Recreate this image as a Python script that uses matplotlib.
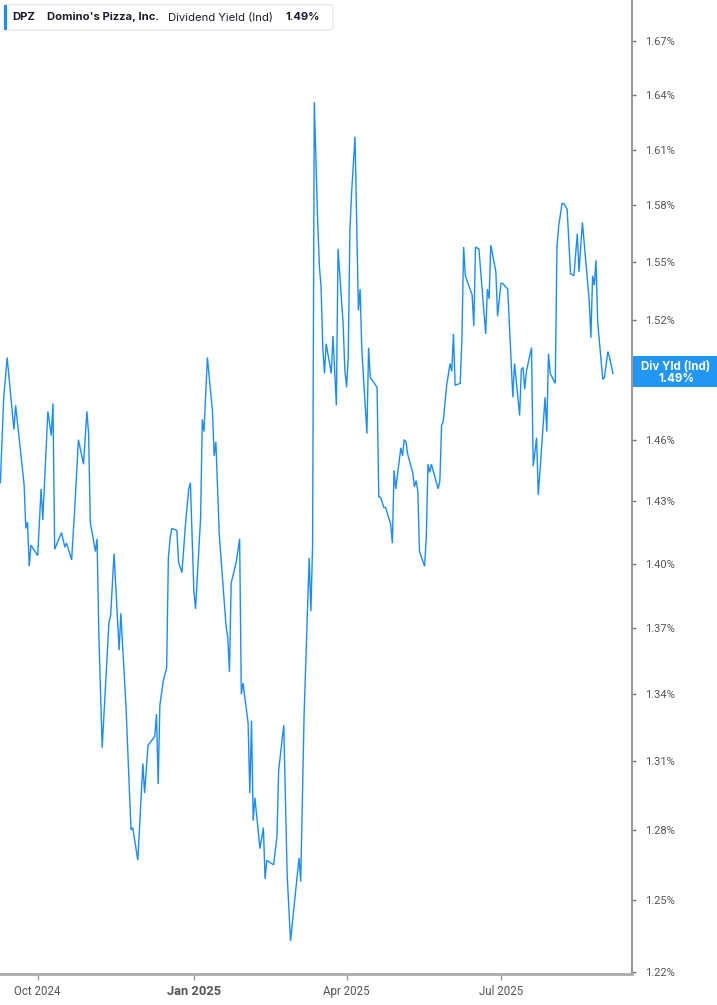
import matplotlib
matplotlib.use("Agg")
import matplotlib.pyplot as plt
import matplotlib.dates as mdates
from matplotlib.patches import Rectangle, FancyBboxPatch
import pandas as pd

# ---- data ----
start_date = "2024-09-09"
day_offsets = [0, 2, 4, 8, 9, 14, 15, 16, 17, 18, 22, 24, 25, 28, 30, 31, 32, 36, 38, 39,
               42, 44, 46, 49, 51, 52, 53, 56, 57, 58, 60, 64, 65, 67, 70, 71, 74, 77, 78, 81,
               84, 85, 87, 91, 92, 93, 94, 96, 98, 99, 100, 101, 104, 105, 107, 109, 111, 112, 114, 115,
               117, 118, 119, 120, 122, 125, 126, 127, 129, 133, 134, 135, 136, 139, 141, 142, 143, 146, 147, 148,
               149, 150, 153, 155, 156, 157, 161, 163, 164, 167, 169, 171, 174, 176, 177, 179, 182, 183, 184, 185,
               187, 188, 189, 190, 191, 192, 195, 196, 198, 199, 202, 203, 204, 205, 206, 207, 209, 211, 212, 213,
               216, 217, 218, 222, 223, 224, 226, 227, 230, 231, 232, 233, 236, 237, 238, 239, 240, 243, 244, 245,
               246, 247, 250, 251, 252, 253, 254, 258, 259, 260, 261, 263, 265, 266, 267, 268, 271, 272, 273, 274,
               278, 279, 280, 282, 284, 286, 287, 288, 289, 292, 293, 295, 296, 299, 302, 303, 306, 307, 308, 309,
               310, 313, 314, 316, 317, 321, 322, 323, 324, 327, 328, 329, 331, 332, 334, 336, 338, 340, 341, 343,
               347, 348, 349, 350, 351, 352, 355, 356, 358, 359, 361]
yield_pct = [1.439, 1.481, 1.501, 1.465, 1.477, 1.438, 1.417, 1.420, 1.399, 1.409, 1.404, 1.436, 1.421, 1.474, 1.462, 1.478, 1.407, 1.415, 1.408, 1.410,
             1.402, 1.429, 1.460, 1.448, 1.474, 1.463, 1.420, 1.406, 1.412, 1.368, 1.316, 1.373, 1.376, 1.405, 1.360, 1.377, 1.335, 1.280, 1.281, 1.267,
             1.309, 1.296, 1.317, 1.321, 1.331, 1.300, 1.335, 1.346, 1.352, 1.403, 1.412, 1.417, 1.416, 1.401, 1.396, 1.418, 1.436, 1.439, 1.388, 1.379,
             1.407, 1.422, 1.470, 1.464, 1.501, 1.474, 1.452, 1.459, 1.414, 1.371, 1.366, 1.350, 1.391, 1.401, 1.412, 1.340, 1.345, 1.327, 1.296, 1.328,
             1.284, 1.294, 1.272, 1.281, 1.259, 1.267, 1.265, 1.277, 1.306, 1.326, 1.261, 1.233, 1.254, 1.268, 1.258, 1.331, 1.403, 1.378, 1.409, 1.636,
             1.571, 1.548, 1.537, 1.506, 1.493, 1.508, 1.493, 1.512, 1.477, 1.557, 1.518, 1.495, 1.486, 1.501, 1.567, 1.587, 1.617, 1.525, 1.536, 1.505,
             1.463, 1.506, 1.491, 1.486, 1.432, 1.432, 1.427, 1.427, 1.419, 1.410, 1.445, 1.436, 1.456, 1.452, 1.460, 1.459, 1.453, 1.444, 1.437, 1.440,
             1.435, 1.406, 1.399, 1.413, 1.448, 1.444, 1.448, 1.436, 1.440, 1.467, 1.469, 1.487, 1.498, 1.494, 1.513, 1.487, 1.488, 1.511, 1.558, 1.543,
             1.533, 1.517, 1.558, 1.557, 1.535, 1.513, 1.536, 1.531, 1.559, 1.545, 1.522, 1.539, 1.539, 1.536, 1.481, 1.498, 1.472, 1.495, 1.496, 1.485,
             1.494, 1.506, 1.447, 1.461, 1.433, 1.481, 1.464, 1.503, 1.493, 1.488, 1.558, 1.569, 1.581, 1.581, 1.578, 1.544, 1.543, 1.565, 1.545, 1.571,
             1.530, 1.511, 1.543, 1.538, 1.551, 1.519, 1.490, 1.491, 1.504, 1.501, 1.493]

y_ticks = [1.22, 1.25, 1.28, 1.31, 1.34, 1.37, 1.40, 1.43, 1.46, 1.49, 1.52, 1.55, 1.58, 1.61, 1.64, 1.67]
x_tick_dates = ["2024-10-01", "2025-01-01", "2025-04-01", "2025-07-01"]
x_tick_labels = ["Oct 2024", "Jan 2025", "Apr 2025", "Jul 2025"]

ticker = "DPZ"
company = "Domino's Pizza, Inc."
metric = "Dividend Yield (Ind)"
short_metric = "Div Yld (Ind)"
last_value = yield_pct[-1]

# ---- figure ----
W, H = 717, 1005
fig = plt.figure(figsize=(W / 100, H / 100), dpi=100)
fig.patch.set_facecolor("white")

ax_left, ax_right, ax_top, ax_bottom = 0, 632.3, 0, 974.3
ax = fig.add_axes([ax_left / W, 1 - ax_bottom / H, (ax_right - ax_left) / W, (ax_bottom - ax_top) / H])
ax.set_facecolor("white")

base = pd.Timestamp(start_date)
dates = base + pd.to_timedelta(day_offsets, unit="D")
line_color = "#1a8cff"
ax.plot(dates, yield_pct, color=line_color, lw=1.0, solid_joinstyle="miter")

ax.set_yscale("log")
ax.set_ylim(1.2192, 1.6933)
ax.set_xlim(base - pd.Timedelta(hours=5), base + pd.Timedelta(days=372.4))

# the value label box covers the 1.49% tick label in the reference
ax.yaxis.tick_right()
ax.set_yticks(y_ticks)
ax.set_yticklabels(["" if abs(v - round(last_value, 2)) < 1e-9 else f"{v:.2f}%" for v in y_ticks])
ax.yaxis.set_minor_locator(matplotlib.ticker.NullLocator())
ax.tick_params(axis="y", which="major", direction="out", length=3, width=1, color="#777777",
               labelcolor="#555555", labelsize=8, pad=6)
for lab in ax.get_yticklabels():
    lab.set_family(["Roboto", "DejaVu Sans"])

ax.set_xticks(mdates.date2num(pd.to_datetime(x_tick_dates)))
ax.set_xticklabels(x_tick_labels)
ax.tick_params(axis="x", direction="out", length=4, width=1, color="#999999",
               labelcolor="#555555", labelsize=8.3, pad=4)
for i, lab in enumerate(ax.get_xticklabels()):
    lab.set_family(["Liberation Sans Narrow", "Roboto", "DejaVu Sans"])
    if x_tick_labels[i].startswith("Jan"):
        lab.set_fontweight("bold")
        lab.set_fontsize(9.3)

for s in ["top", "left"]:
    ax.spines[s].set_visible(False)
ax.spines["right"].set_color("#999999")
ax.spines["right"].set_linewidth(1.5)
ax.spines["bottom"].set_color("#aaaaaa")
ax.spines["bottom"].set_linewidth(2)
ax.grid(False)

# ---- legend box (top-left) ----
def fx(px):
    return px / W

def fy(py):
    return 1 - py / H

leg = FancyBboxPatch((fx(4), fy(30)), fx(333) - fx(4), fy(4.7) - fy(30),
                     boxstyle="round,pad=0,rounding_size=0.004", transform=fig.transFigure,
                     facecolor="white", edgecolor="#e3e3e3", lw=0.8, zorder=5)
fig.add_artist(leg)
fig.add_artist(Rectangle((fx(4), fy(30)), fx(7) - fx(4), fy(4.7) - fy(30),
                         transform=fig.transFigure, facecolor=line_color, edgecolor="none", zorder=6))
tcol = "#1c1c28"
fam = ["Inter", "DejaVu Sans"]
ty = fy(17.5)
fs = 8.1
fig.text(fx(12.7), ty, ticker, fontsize=fs, fontweight="bold", color=tcol, va="center", family=fam, zorder=7)
fig.text(fx(46.7), ty, company, fontsize=fs, fontweight="bold", color=tcol, va="center", family=fam, zorder=7)
fig.text(fx(168), ty, metric, fontsize=fs, color=tcol, va="center", family=fam, zorder=7)
fig.text(fx(285.7), ty, f"{last_value:.2f}%", fontsize=fs, fontweight="bold", color=tcol, va="center", family=fam, zorder=7)

# ---- end value label (right) ----
fig.add_artist(Rectangle((fx(633), fy(387.3)), fx(717) - fx(633), fy(356.3) - fy(387.3),
                         transform=fig.transFigure, facecolor="#2196f3", edgecolor="none", zorder=8))
fig.text(fx(676), fy(366.5), short_metric, fontsize=8.3, fontweight="bold", color="white",
         ha="center", va="center", family=fam, zorder=9)
fig.text(fx(676), fy(378.5), f"{last_value:.2f}%", fontsize=8.3, fontweight="bold", color="white",
         ha="center", va="center", family=fam, zorder=9)

fig.savefig("out.png", dpi=100, facecolor="white")
